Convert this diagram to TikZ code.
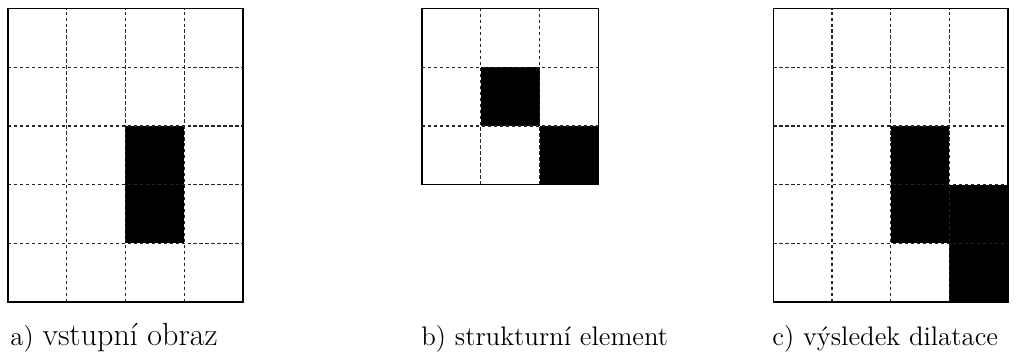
\documentclass[tikz,border=0pt]{standalone}
\usetikzlibrary{positioning}
\tikzset{
  gridline/.style={draw=black!85, line width=0.6pt, dash pattern=on 1.6pt off 1.3pt},
  frame/.style={draw=black, line width=0.7pt},
  pixel/.style={fill=black},
  caption/.style={anchor=base west, inner sep=0pt, font=\fontsize{13}{15}\selectfont}
}

\begin{document}
\begin{tikzpicture}[x=1cm, y=1cm]
  \useasboundingbox (0,0) rectangle (17.39,6.133);
  % a) input image, 4x5
  \begin{scope}[shift={(0.136,0.988)}]
    \fill[pixel] (2,1) rectangle (3,3);
    \foreach \x in {1,2,3} \draw[gridline] (\x,0) -- (\x,5);
    \foreach \y in {1,...,4} \draw[gridline] (0,\y) -- (4,\y);
    \draw[frame] (0,0) rectangle (4,5);
  \end{scope}
  % b) structuring element, 3x3
  \begin{scope}[shift={(7.19,2.988)}]
    \fill[pixel] (1,1) rectangle (2,2);
    \fill[pixel] (2,0) rectangle (3,1);
    \foreach \x in {1,2} \draw[gridline] (\x,0) -- (\x,3);
    \foreach \y in {1,2} \draw[gridline] (0,\y) -- (3,\y);
    \draw[frame] (0,0) rectangle (3,3);
  \end{scope}
  % c) dilation result, 4x5
  \begin{scope}[shift={(13.17,0.988)}]
    \fill[pixel] (2,1) rectangle (3,3);
    \fill[pixel] (3,0) rectangle (4,2);
    \foreach \x in {1,2,3} \draw[gridline] (\x,0) -- (\x,5);
    \foreach \y in {1,...,4} \draw[gridline] (0,\y) -- (4,\y);
    \draw[frame] (0,0) rectangle (4,5);
  \end{scope}
  \node[caption] (capa) at (0.17,0.256) {a) {\fontsize{15.5}{17}\selectfont vstupní obraz}};
  \node[caption] (capb) at (7.17,0.256) {b) strukturní element};
  \node[caption] (capc) at (13.15,0.256) {c) výsledek dilatace};
\end{tikzpicture}
\end{document}
